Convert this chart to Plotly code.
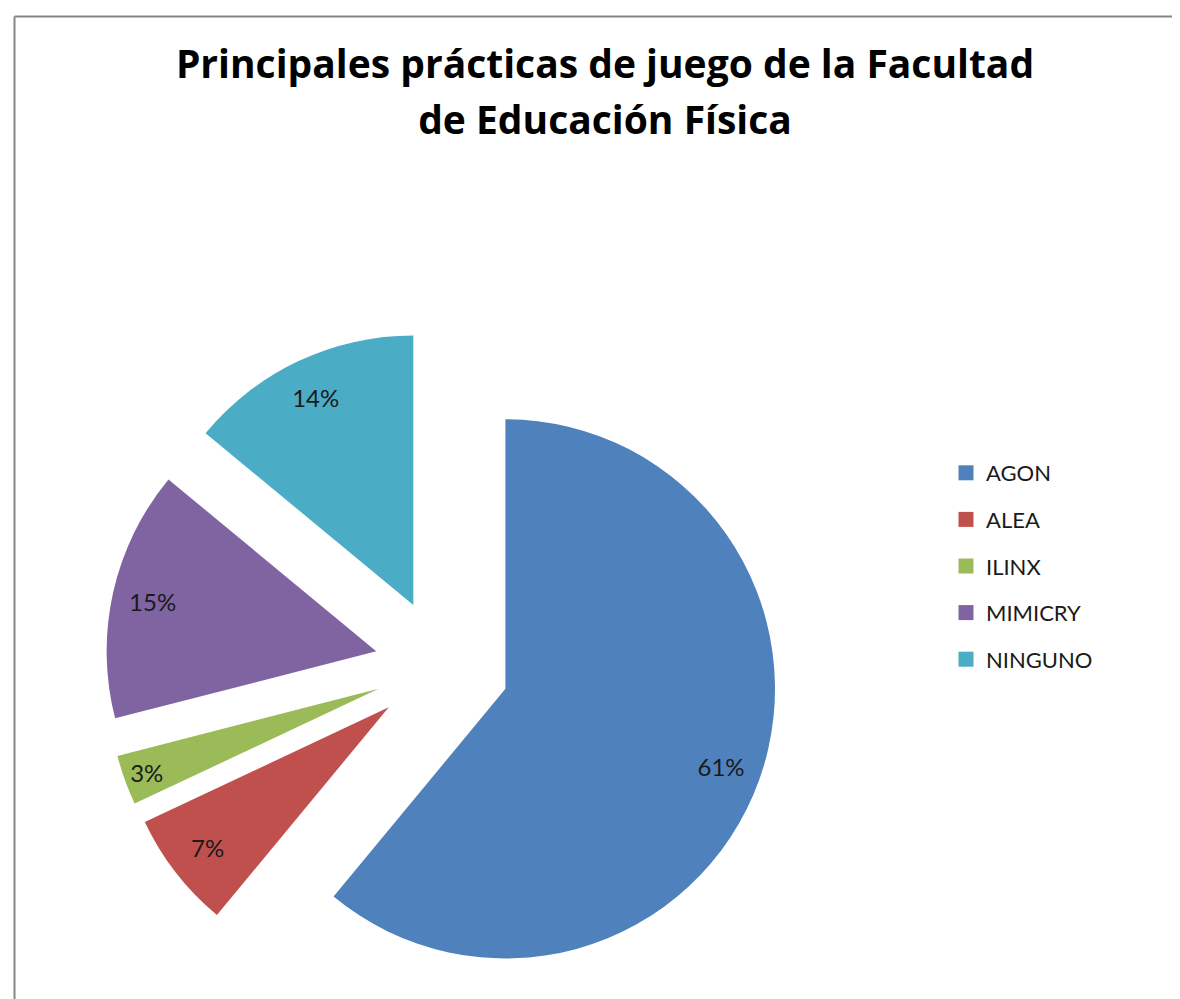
import plotly.graph_objects as go

labels = ["AGON", "ALEA", "ILINX", "MIMICRY", "NINGUNO"]
values = [61, 7, 3, 15, 14]
colors = ["#4F81BD", "#C0504D", "#9BBB59", "#8064A2", "#4BACC6"]
title_lines = ["Principales prácticas de juego de la Facultad", "de Educación Física"]

W, H = 1180, 999
cx, cy, half = 434, 658, 337
dom_x = [(cx - half) / W, (cx + half) / W]
dom_y = [max(0, (H - cy - half) / H), (H - cy + half) / H]
pull = 0.25

fig = go.Figure()
fig.add_trace(go.Pie(
    labels=labels, values=values, sort=False, direction="clockwise", rotation=0,
    marker=dict(colors=colors, line=dict(width=0)),
    pull=[pull] * len(values), textinfo="none", hoverinfo="label+percent",
    domain=dict(x=dom_x, y=dom_y), showlegend=False,
))
# transparent ring carrying the percentage labels near the outer edge
fig.add_trace(go.Pie(
    labels=labels, values=values, sort=False, direction="clockwise", rotation=0,
    hole=0.7,
    marker=dict(colors=["rgba(0,0,0,0)"] * len(values), line=dict(width=0)),
    pull=[pull] * len(values), textinfo="percent", textposition="inside",
    insidetextorientation="horizontal",
    textfont=dict(family="Lato, sans-serif", size=24, color="#1a1a1a"),
    hoverinfo="skip", domain=dict(x=dom_x, y=dom_y), showlegend=False,
))
# legend entries (one group per category for Excel-like spacing)
for lab, col in zip(labels, colors):
    fig.add_trace(go.Scatter(
        x=[None], y=[None], mode="markers", name=lab, legendgroup=lab,
        marker=dict(symbol="square", size=15, color=col), showlegend=True,
        hoverinfo="skip",
    ))

span = "<span style='font-size:39px'>{}</span>"
title_text = "<br>".join(span.format(t) for t in title_lines)

fig.update_layout(
    width=W, height=H,
    margin=dict(l=0, r=0, t=0, b=0),
    paper_bgcolor="white", plot_bgcolor="rgba(0,0,0,0)",
    xaxis=dict(visible=False), yaxis=dict(visible=False),
    uniformtext=dict(minsize=24, mode="show"),
    title=dict(text=title_text, x=597 / W, xanchor="center", xref="paper",
               y=1 - 70 / H, yanchor="top", yref="container",
               font=dict(family="Open Sans, sans-serif", size=43, color="black", weight="bold")),
    legend=dict(x=938 / W, y=1 - 444 / H, xanchor="left", yanchor="top",
                font=dict(family="Lato, sans-serif", size=22, color="#1a1a1a"),
                itemwidth=30, tracegroupgap=15, bgcolor="rgba(0,0,0,0)"),
    shapes=[
        dict(type="line", xref="paper", yref="paper", x0=6.5 / W, x1=6.5 / W, y0=-0.1, y1=1 - 8.5 / H,
             line=dict(color="#868686", width=2)),
        dict(type="line", xref="paper", yref="paper", x0=6.5 / W, x1=1.1, y0=1 - 8.5 / H, y1=1 - 8.5 / H,
             line=dict(color="#868686", width=2)),
    ],
)

fig.write_html("out.html")
